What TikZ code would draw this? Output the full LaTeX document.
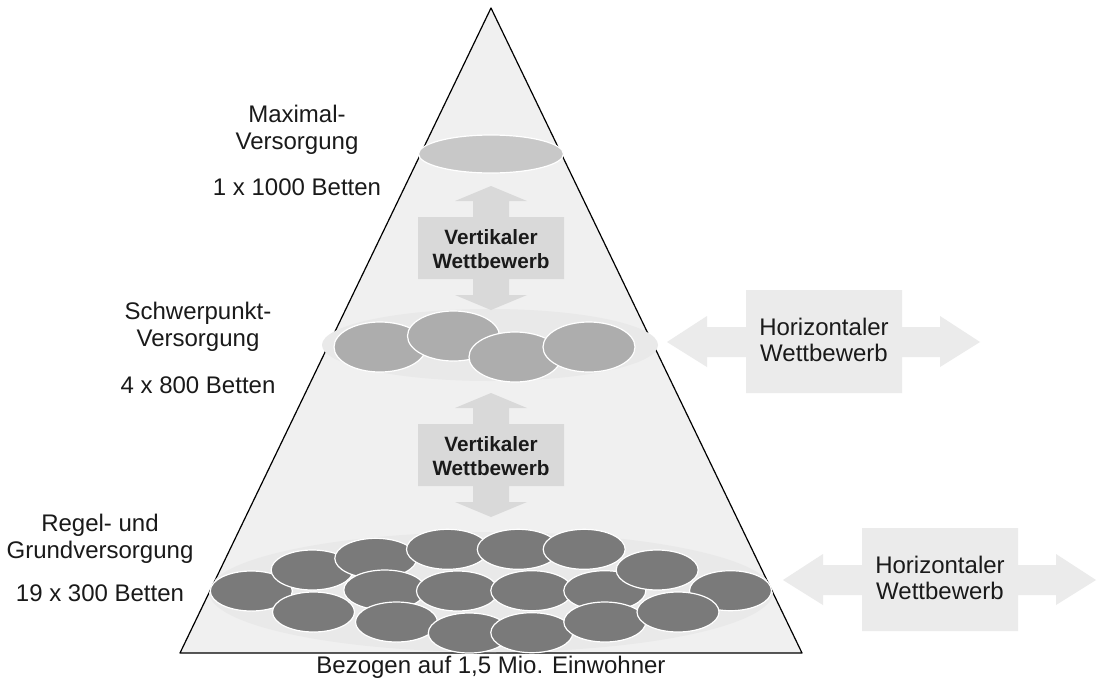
\documentclass[tikz,border=0pt]{standalone}
\usepackage{fontspec}
\setmainfont{Liberation Sans}
\definecolor{pyrFill}{HTML}{F0F0F0}
\definecolor{pyrHalo}{HTML}{E9E9E9}
\definecolor{pyrTop}{HTML}{C8C8C8}
\definecolor{pyrMid}{HTML}{ADADAD}
\definecolor{pyrLow}{HTML}{7A7A7A}
\definecolor{pyrVert}{HTML}{D9D9D9}
\definecolor{pyrHoriz}{HTML}{EBEBEB}
\definecolor{pyrInk}{HTML}{1A1A1A}
\begin{document}
\begin{tikzpicture}[x=1pt,y=-1pt,line join=round]
\path[fill=white] (0,0) rectangle (1097,683);
\tikzset{label/.style={text=pyrInk,align=center,font=\fontsize{24}{26.7}\selectfont},vlabel/.style={text=pyrInk,align=center,font=\fontsize{20.7}{24.4}\selectfont\bfseries},hlabel/.style={text=pyrInk,align=center,font=\fontsize{24}{25.7}\selectfont},disc/.style={draw=white,line width=1.2pt}}
% pyramid
\path[fill=pyrFill,draw=black,line width=1.2pt] (491,8) -- (802,653) -- (180,653) -- cycle;
\path[fill=pyrHalo] (490,345) ellipse (168pt and 36pt);
\begin{scope}
\clip (491,8) -- (802,653) -- (180,653) -- cycle;
\path[fill=pyrHalo] (491,592) ellipse (282pt and 60pt);
\end{scope}
% level discs
\path[disc,fill=pyrTop] (491,154) ellipse (72.5pt and 19pt);
\path[disc,fill=pyrMid] (380,347) ellipse (46pt and 25pt);
\path[disc,fill=pyrMid] (453.5,336) ellipse (46pt and 25pt);
\path[disc,fill=pyrMid] (515,357) ellipse (46pt and 25pt);
\path[disc,fill=pyrMid] (589,347) ellipse (46pt and 25pt);
\foreach \cx/\cy in {251.3/591,312.2/570,375.8/558.3,447.5/549.3,518.3/549.3,584.2/549.3,384.8/590,457.5/591,531.8/590.7,604.8/590.7,657.2/570,730.5/590.7,313.5/612,396.5/622,469.3/633,531.8/632.7,604.8/622,678/612}
  \path[disc,fill=pyrLow] (\cx,\cy) ellipse (41pt and 20pt);
% vertical competition
\foreach \dy in {0,207}
  \path[fill=pyrVert,shift={(0,\dy)}] (491,186) -- (527,201) -- (509,201) -- (509,217) -- (564,217) -- (564,279) -- (509,279) -- (509,295) -- (527,295) -- (491,310) -- (455,295) -- (473,295) -- (473,279) -- (418,279) -- (418,217) -- (473,217) -- (473,201) -- (455,201) -- cycle;
\node[vlabel] (vertTop) at (491,249) {Vertikaler\\Wettbewerb};
\node[vlabel] (vertLow) at (491,456) {Vertikaler\\Wettbewerb};
% horizontal competition
\foreach \dx/\dy in {0/0,116/238}
  \path[fill=pyrHoriz,shift={(\dx,\dy)}] (667,342) -- (707,316) -- (707,327) -- (746,327) -- (746,290) -- (902,290) -- (902,327) -- (940,327) -- (940,316) -- (980,342) -- (940,367) -- (940,357) -- (902,357) -- (902,393) -- (746,393) -- (746,357) -- (707,357) -- (707,367) -- cycle;
\node[hlabel] (horizMid) at (824,340) {Horizontaler\\Wettbewerb};
\node[hlabel] (horizLow) at (940,578) {Horizontaler\\Wettbewerb};
% level labels
\node[label] (maxLabel) at (297,130) {Maximal-\\Versorgung};
\node[label] (maxBeds) at (297,187) {1 x 1000 Betten};
\node[label] (midLabel) at (198,327) {Schwerpunkt-\\Versorgung};
\node[label] (midBeds) at (198,385) {4 x 800 Betten};
\node[label] (lowLabel) at (100,539) {Regel- und\\Grundversorgung};
\node[label] (lowBeds) at (100,593) {19 x 300 Betten};
\node[label] (caption) at (491,667) {Bezogen auf 1,5 Mio. Einwohner};
\end{tikzpicture}
\end{document}
